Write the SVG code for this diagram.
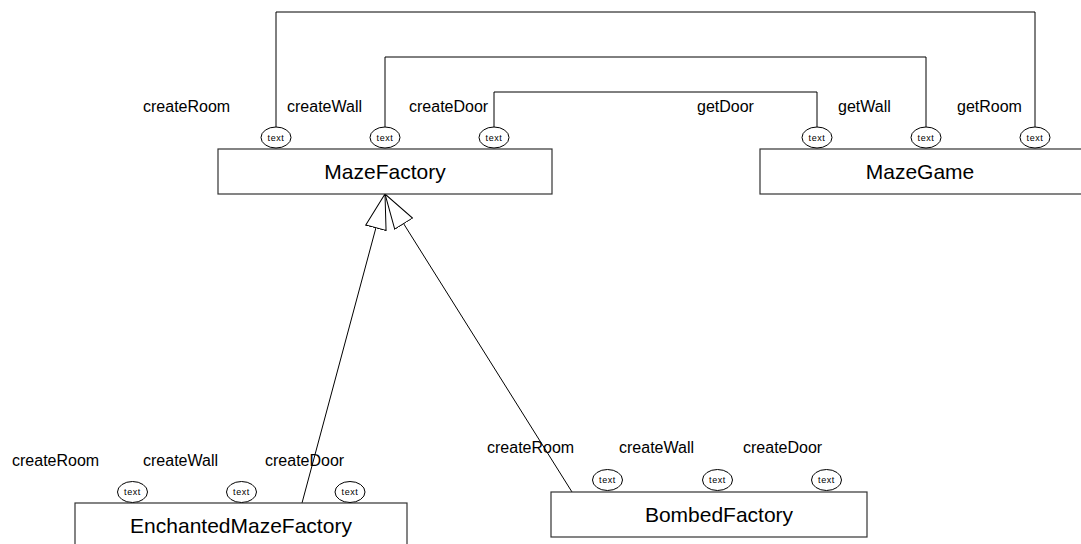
<svg xmlns="http://www.w3.org/2000/svg" width="1081" height="544" viewBox="0 0 1081 544">
  <style>
    .box { fill: #fff; stroke: #333; stroke-width: 1.2; }
    .port { fill: #fff; stroke: #000; stroke-width: 1; }
    .wire { fill: none; stroke: #000; stroke-width: 1; }
    .title { font-family: "Liberation Sans", Arial, sans-serif; font-size: 21px; fill: #000; text-anchor: middle; }
    .label { font-family: "Liberation Sans", Arial, sans-serif; font-size: 16px; fill: #000; }
    .ptext { font-family: "Liberation Sans", Arial, sans-serif; font-size: 9px; fill: #000; text-anchor: middle; letter-spacing: 0.6px; }
  </style>
  <defs>
    <marker id="inherit" markerUnits="userSpaceOnUse" viewBox="0 0 36 23" markerWidth="36" markerHeight="23" refX="35.5" refY="11.5" orient="auto">
      <path d="M0.5,1 L35.5,11.5 L0.5,22 Z" fill="#fff" stroke="#000" stroke-width="1"/>
    </marker>
  </defs>

  <rect width="1081" height="544" fill="#fff"/>

  <!-- connectors -->
  <g id="connectors">
    <polyline class="wire" points="276,127 276,12 1035,12 1035,127"/>
    <polyline class="wire" points="385,127 385,57 926,57 926,127"/>
    <polyline class="wire" points="494,127 494,92 817,92 817,127"/>
    <line class="wire" x1="302" y1="503" x2="385" y2="194" marker-end="url(#inherit)"/>
    <line class="wire" x1="572" y1="492" x2="385" y2="194" marker-end="url(#inherit)"/>
  </g>

  <!-- MazeFactory -->
  <g id="MazeFactory">
    <rect class="box" x="218" y="149" width="334" height="45"/>
    <text class="title" x="385" y="179">MazeFactory</text>
    <text class="label" x="143" y="112">createRoom</text>
    <text class="label" x="287" y="112">createWall</text>
    <text class="label" x="409" y="112">createDoor</text>
    <ellipse class="port" cx="276" cy="137.5" rx="15" ry="10.5"/>
    <text class="ptext" x="276" y="140.5">text</text>
    <ellipse class="port" cx="385" cy="137.5" rx="15" ry="10.5"/>
    <text class="ptext" x="385" y="140.5">text</text>
    <ellipse class="port" cx="494" cy="137.5" rx="15" ry="10.5"/>
    <text class="ptext" x="494" y="140.5">text</text>
  </g>

  <!-- MazeGame -->
  <g id="MazeGame">
    <rect class="box" x="760" y="149" width="330" height="45"/>
    <text class="title" x="920" y="179">MazeGame</text>
    <text class="label" x="697" y="112">getDoor</text>
    <text class="label" x="838" y="112">getWall</text>
    <text class="label" x="957" y="112">getRoom</text>
    <ellipse class="port" cx="817" cy="137.5" rx="15" ry="10.5"/>
    <text class="ptext" x="817" y="140.5">text</text>
    <ellipse class="port" cx="926" cy="137.5" rx="15" ry="10.5"/>
    <text class="ptext" x="926" y="140.5">text</text>
    <ellipse class="port" cx="1035" cy="137.5" rx="15" ry="10.5"/>
    <text class="ptext" x="1035" y="140.5">text</text>
  </g>

  <!-- EnchantedMazeFactory -->
  <g id="EnchantedMazeFactory">
    <rect class="box" x="75" y="503" width="332" height="50"/>
    <text class="title" x="241" y="533">EnchantedMazeFactory</text>
    <text class="label" x="12" y="466">createRoom</text>
    <text class="label" x="143" y="466">createWall</text>
    <text class="label" x="265" y="466">createDoor</text>
    <ellipse class="port" cx="132.5" cy="492" rx="15" ry="10.5"/>
    <text class="ptext" x="132.5" y="495">text</text>
    <ellipse class="port" cx="241.5" cy="492" rx="15" ry="10.5"/>
    <text class="ptext" x="241.5" y="495">text</text>
    <ellipse class="port" cx="350" cy="492" rx="15" ry="10.5"/>
    <text class="ptext" x="350" y="495">text</text>
  </g>

  <!-- BombedFactory -->
  <g id="BombedFactory">
    <rect class="box" x="551" y="492" width="316" height="45"/>
    <text class="title" x="719" y="522">BombedFactory</text>
    <text class="label" x="487" y="453">createRoom</text>
    <text class="label" x="619" y="453">createWall</text>
    <text class="label" x="743" y="453">createDoor</text>
    <ellipse class="port" cx="607.5" cy="480" rx="15" ry="10.5"/>
    <text class="ptext" x="607.5" y="483">text</text>
    <ellipse class="port" cx="717.5" cy="480" rx="15" ry="10.5"/>
    <text class="ptext" x="717.5" y="483">text</text>
    <ellipse class="port" cx="826.5" cy="480" rx="15" ry="10.5"/>
    <text class="ptext" x="826.5" y="483">text</text>
  </g>
</svg>
